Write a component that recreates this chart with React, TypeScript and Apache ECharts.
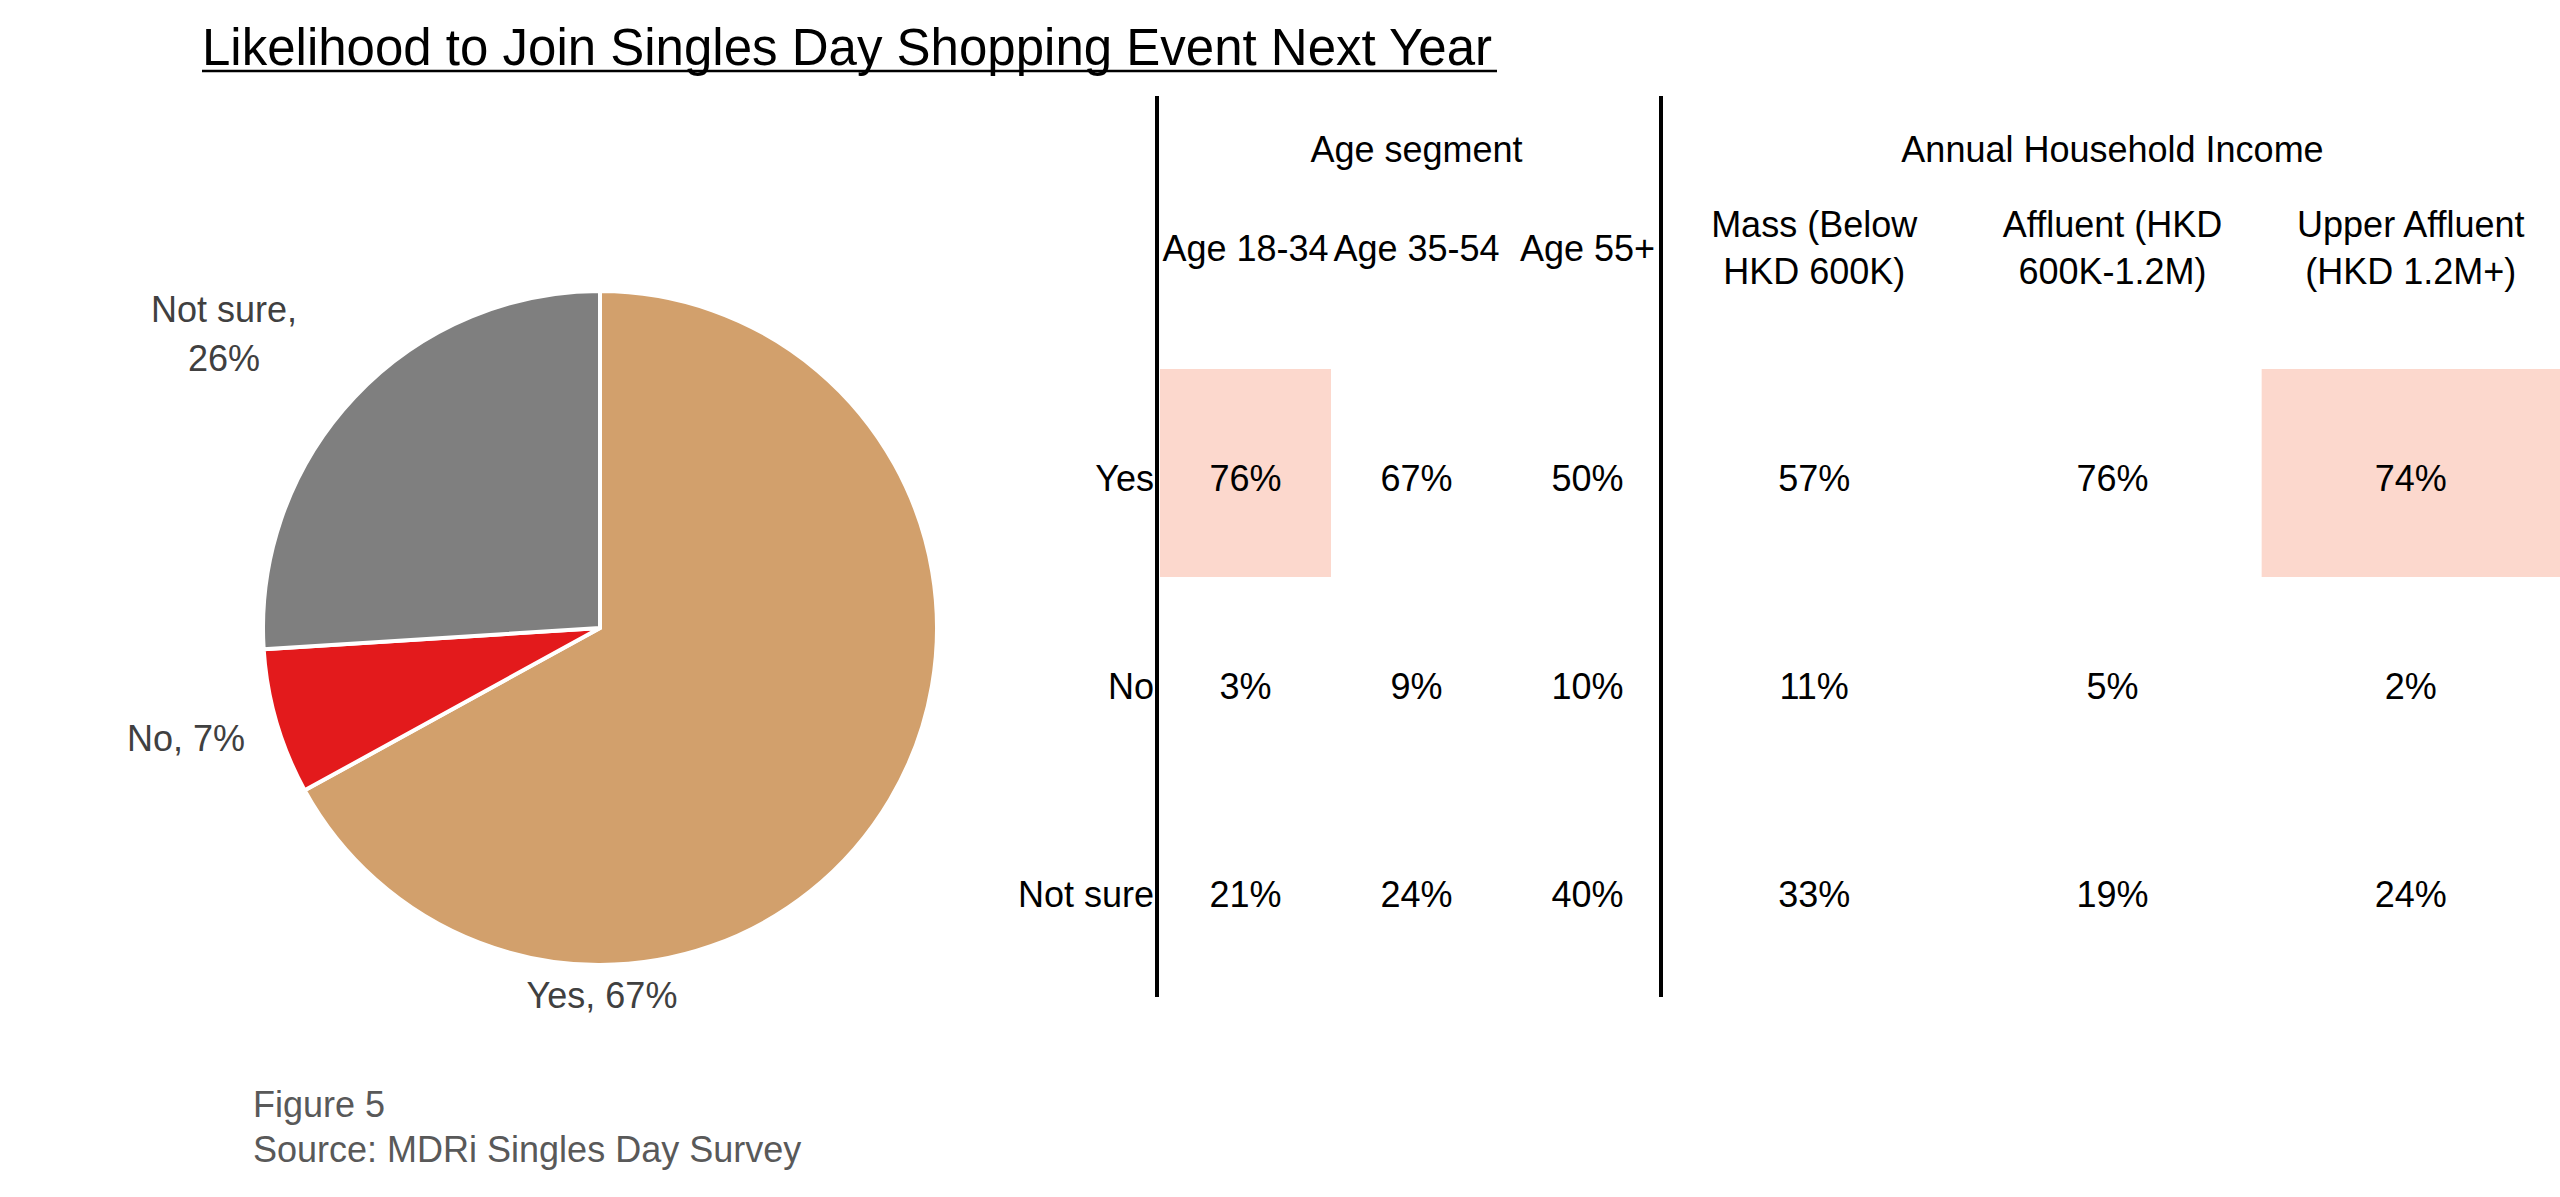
import React, { useEffect, useRef } from "react";
import * as echarts from "echarts";

const TITLE = "Likelihood to Join Singles Day Shopping Event Next Year";
const PIE_NAMES = ["Yes", "No", "Not sure"];
const PIE_VALUES = [67, 7, 26];
const PIE_COLORS = ["#D2A06C", "#E31A1C", "#7F7F7F"];

const ROWS = ["Yes", "No", "Not sure"];
const AGE_COLS = ["Age 18-34", "Age 35-54", "Age 55+"];
const INCOME_COLS = ["Mass (Below\nHKD 600K)", "Affluent (HKD\n600K-1.2M)", "Upper Affluent\n(HKD 1.2M+)"];
// rows x cols
const AGE_VALUES = [
  [76, 67, 50],
  [3, 9, 10],
  [21, 24, 40],
];
const INCOME_VALUES = [
  [57, 76, 74],
  [11, 5, 2],
  [33, 19, 24],
];
// [col, row]
const AGE_HIGHLIGHT = [[0, 0]];
const INCOME_HIGHLIGHT = [[2, 0]];

const FOOTER = ["Figure 5", "Source: MDRi Singles Day Survey"];

const FONT = "'Liberation Sans', Arial, sans-serif";
const HL_COLOR = "#FCD8CD";
const TEXT_DY = 5;

function buildCells(values: number[][], hl: number[][]) {
  const out: number[][] = [];
  values.forEach((row, r) => {
    row.forEach((v, c) => {
      const isHl = hl.some(([hc, hr]) => hc === c && hr === r) ? 1 : 0;
      out.push([c, r, v, isHl]);
    });
  });
  return out;
}

const makeRenderCell = (withRowLabels: boolean) => (params: any, api: any) => {
  const c = api.value(0);
  const r = api.value(1);
  const v = api.value(2);
  const hl = api.value(3);
  const [cx, cy] = api.coord([c, r]);
  const [w, h] = api.size([1, 1]);
  const children: any[] = [];
  if (hl) {
    children.push({
      type: "rect",
      shape: { x: cx - w / 2, y: cy - h / 2, width: w, height: h },
      style: { fill: HL_COLOR },
    });
  }
  children.push({
    type: "text",
    style: {
      text: v + "%",
      x: cx,
      y: cy + TEXT_DY,
      align: "center",
      verticalAlign: "middle",
      fill: "#000",
      fontSize: 36,
      fontFamily: FONT,
    },
  });
  if (withRowLabels && c === 0) {
    children.push({
      type: "text",
      style: {
        text: ROWS[r],
        x: cx - w / 2 - 6,
        y: cy + TEXT_DY,
        align: "right",
        verticalAlign: "middle",
        fill: "#000",
        fontSize: 36,
        fontFamily: FONT,
      },
    });
  }
  return { type: "group", children };
};

export default function App() {
  const ref = useRef<HTMLDivElement>(null);
  useEffect(() => {
    if (!ref.current) return;
    const chart = echarts.init(ref.current, null, { renderer: "svg" });
    const PIE_CX = 600;
    const PIE_CY = 628;
    const PIE_R = 337;
    const labelPos: any[] = [
      { x: PIE_CX + 2, y: PIE_CY + PIE_R + 30, align: "center", verticalAlign: "middle" },
      { x: PIE_CX - PIE_R - 18, y: PIE_CY + 110, align: "right", verticalAlign: "middle" },
      { x: 224, y: 334, align: "center", verticalAlign: "middle" },
    ];
    const axisCommonX = {
      type: "category",
      position: "top",
      axisLine: { show: false },
      axisTick: { show: false },
      splitLine: { show: false },
      nameLocation: "middle",
      nameGap: 220,
      nameTextStyle: { fontSize: 36, fontFamily: FONT, color: "#000", verticalAlign: "middle" },
      axisLabel: {
        margin: 121,
        fontSize: 36,
        lineHeight: 47,
        fontFamily: FONT,
        color: "#000",
        verticalAlign: "middle",
        interval: 0,
      },
    };
    const option: any = {
      animation: false,
      backgroundColor: "#fff",
      textStyle: { fontFamily: FONT },
      grid: [
        { left: 1160, width: 513, top: 369, height: 624 },
        { left: 1665, width: 895, top: 369, height: 624 },
      ],
      xAxis: [
        { ...axisCommonX, gridIndex: 0, data: AGE_COLS, name: "Age segment" },
        { ...axisCommonX, gridIndex: 1, data: INCOME_COLS, name: "Annual Household Income" },
      ],
      yAxis: [
        { type: "category", gridIndex: 0, inverse: true, data: ROWS, show: false },
        { type: "category", gridIndex: 1, inverse: true, data: ROWS, show: false },
      ],
      series: [
        {
          type: "pie",
          center: [PIE_CX, PIE_CY],
          radius: PIE_R,
          startAngle: 90,
          clockwise: true,
          silent: true,
          data: PIE_NAMES.map((n, i) => ({ name: n, value: PIE_VALUES[i], itemStyle: { color: PIE_COLORS[i] } })),
          itemStyle: { borderColor: "#fff", borderWidth: 4 },
          label: {
            show: true,
            position: "outside",
            fontSize: 36,
            lineHeight: 49,
            fontFamily: FONT,
            color: "#404040",
            formatter: (p: any) => (p.name.length > 3 ? `${p.name},\n${p.value}%` : `${p.name}, ${p.value}%`),
          },
          labelLine: { show: false },
          labelLayout: (params: any) => labelPos[params.dataIndex],
        },
        {
          type: "custom",
          xAxisIndex: 0,
          yAxisIndex: 0,
          silent: true,
          renderItem: makeRenderCell(true),
          data: buildCells(AGE_VALUES, AGE_HIGHLIGHT),
          z: 2,
        },
        {
          type: "custom",
          xAxisIndex: 1,
          yAxisIndex: 1,
          silent: true,
          renderItem: makeRenderCell(false),
          data: buildCells(INCOME_VALUES, INCOME_HIGHLIGHT),
          z: 2,
        },
      ],
      graphic: [
        {
          type: "text",
          x: 202,
          y: 47,
          style: { text: TITLE, fontSize: 51, fontFamily: FONT, fill: "#000", verticalAlign: "middle", align: "left" },
        },
        {
          type: "line",
          shape: { x1: 202, y1: 71, x2: 1497, y2: 71 },
          style: { stroke: "#000", lineWidth: 2.5 },
        },
        {
          type: "line",
          shape: { x1: 1157, y1: 96, x2: 1157, y2: 997 },
          style: { stroke: "#000", lineWidth: 4 },
          z: 10,
        },
        {
          type: "line",
          shape: { x1: 1661, y1: 96, x2: 1661, y2: 997 },
          style: { stroke: "#000", lineWidth: 4 },
          z: 10,
        },
        {
          type: "text",
          x: 253,
          y: 1104,
          style: { text: FOOTER[0], fontSize: 36, fontFamily: FONT, fill: "#595959", verticalAlign: "middle" },
        },
        {
          type: "text",
          x: 253,
          y: 1149,
          style: { text: FOOTER[1], fontSize: 36, fontFamily: FONT, fill: "#595959", verticalAlign: "middle" },
        },
      ],
    };
    chart.setOption(option);
    return () => chart.dispose();
  }, []);
  return (
    <div
      ref={ref}
      style={{ position: "fixed", left: 0, top: 0, width: 2560, height: 1197, background: "#fff" }}
    />
  );
}
